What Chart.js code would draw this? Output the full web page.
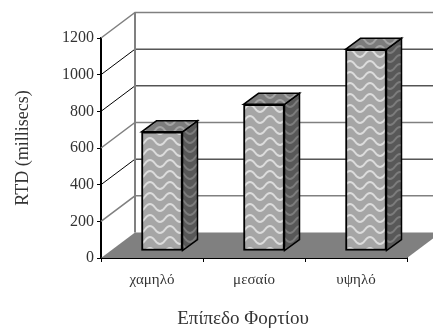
<!DOCTYPE html>
<html>
<head>
<meta charset="utf-8">
<title>RTD</title>
<script src="https://cdn.jsdelivr.net/npm/chart.js@4"></script>
<style>
	html, body { margin: 0; padding: 0; background: #fff; }
	canvas { display: block; }
</style>
</head>
<body>
<canvas id="myChart" width="433" height="329"></canvas>
<script>
const categories = ['χαμηλό', 'μεσαίο', 'υψηλό'];
const rtdValues = [650, 800, 1100];
const yTicks = [0, 200, 400, 600, 800, 1000, 1200];
const yTitle = 'RTD (millisecs)';
const xTitle = 'Επίπεδο Φορτίου';

(function () {
	const FONT = '"Liberation Serif", serif';
	const WALL = { dx: 34, dy: -25.5 };  // profundidad de la pared
	const SHIFT = { dx: 10, dy: -7 };    // barra dentro del suelo
	const DEPTH = { dx: 15, dy: -11 };   // profundidad de la barra
	const gridColors = ['#808080', '#808080', '#000', '#808080', '#000', '#000', '#808080'];

	function onda(base, linea, alto) {
		const c = document.createElement('canvas');
		c.width = 20;
		c.height = alto;
		const g = c.getContext('2d');
		g.fillStyle = base;
		g.fillRect(0, 0, 20, alto);
		g.strokeStyle = linea;
		g.lineWidth = 2;
		[-alto, 0, alto].forEach(off => {
			const m = off + alto / 2;
			g.beginPath();
			g.moveTo(-5, m);
			g.quadraticCurveTo(0, m - 7, 5, m);
			g.quadraticCurveTo(10, m + 7, 15, m);
			g.quadraticCurveTo(20, m - 7, 25, m);
			g.stroke();
		});
		return g.createPattern(c, 'repeat');
	}

	const ctx = document.getElementById('myChart');
	const frente = onda('#a6a6a6', '#dcdcdc', 11);
	const lado = onda('#585858', '#7c7c7c', 9);
	const tapa = onda('#7c7c7c', '#a4a4a4', 9);

	function poligono(g, puntos, fill) {
		g.beginPath();
		puntos.forEach((p, i) => i ? g.lineTo(p[0], p[1]) : g.moveTo(p[0], p[1]));
		g.closePath();
		g.fillStyle = fill;
		g.fill();
		g.strokeStyle = '#000';
		g.lineWidth = 1.5;
		g.stroke();
	}

	const fondo3d = {
		id: 'fondo3d',
		beforeDatasetsDraw(chart) {
			const g = chart.ctx;
			const { left, right, bottom } = chart.chartArea;
			const y = chart.scales.y;
			g.save();
			// suelo
			g.beginPath();
			g.moveTo(left, bottom);
			g.lineTo(left + WALL.dx, bottom + WALL.dy);
			g.lineTo(right + WALL.dx, bottom + WALL.dy);
			g.lineTo(right, bottom);
			g.closePath();
			g.fillStyle = '#808080';
			g.fill();
			// pared y lineas de la rejilla
			yTicks.forEach((v, i) => {
				const py = y.getPixelForValue(v);
				g.strokeStyle = gridColors[i];
				g.lineWidth = gridColors[i] === '#000' ? 1 : 1.5;
				g.beginPath();
				if (v > 0) {
					g.moveTo(left, py);
					g.lineTo(left + WALL.dx, py + WALL.dy);
					g.lineTo(right + WALL.dx, py + WALL.dy);
				}
				g.stroke();
			});
			g.strokeStyle = '#808080';
			g.lineWidth = 2;
			g.beginPath();
			g.moveTo(left + WALL.dx, y.getPixelForValue(1200) + WALL.dy);
			g.lineTo(left + WALL.dx, bottom + WALL.dy);
			g.stroke();
			g.restore();
		},
		beforeDatasetDraw(chart, args) {
			const g = chart.ctx;
			chart.getDatasetMeta(args.index).data.forEach(b => {
				const x0 = b.x - b.width / 2 + SHIFT.dx;
				const x1 = b.x + b.width / 2 + SHIFT.dx;
				const top = b.y + SHIFT.dy;
				const base = b.base + SHIFT.dy;
				poligono(g, [[x1, top], [x1 + DEPTH.dx, top + DEPTH.dy], [x1 + DEPTH.dx, base + DEPTH.dy], [x1, base]], lado);
				poligono(g, [[x0, top], [x0 + DEPTH.dx, top + DEPTH.dy], [x1 + DEPTH.dx, top + DEPTH.dy], [x1, top]], tapa);
			});
			g.save();
			g.translate(SHIFT.dx, SHIFT.dy);
		},
		afterDatasetDraw(chart) {
			chart.ctx.restore();
		},
		afterDraw(chart) {
			const g = chart.ctx;
			g.save();
			g.font = '19px ' + FONT;
			g.fillStyle = '#333';
			g.textAlign = 'center';
			g.textBaseline = 'middle';
			g.fillText(xTitle, 243, 319);
			g.restore();
		}
	};

	new Chart(ctx, {
		type: 'bar',
		data: {
			labels: categories,
			datasets: [{
				data: rtdValues,
				backgroundColor: frente,
				borderColor: '#000',
				borderWidth: 2,
				borderSkipped: false,
				barThickness: 41,
				clip: false
			}]
		},
		plugins: [fondo3d],
		options: {
			responsive: false,
			animation: false,
			layout: { padding: { top: 38, right: 26, left: 0, bottom: 0 } },
			plugins: {
				legend: { display: false },
				tooltip: { enabled: false }
			},
			scales: {
				x: {
					afterFit(scale) { scale.height = 71; },
					border: { color: '#000', width: 2 },
					grid: { drawOnChartArea: false, offset: true, color: '#000', tickLength: 4 },
					ticks: {
						color: '#333',
						padding: 9,
						maxRotation: 0,
						font: { family: FONT, size: 15 }
					}
				},
				y: {
					min: 0,
					max: 1200,
					afterFit(scale) { scale.width = 101; },
					afterBuildTicks(scale) { scale.ticks = yTicks.map(v => ({ value: v })); },
					border: { color: '#000', width: 2 },
					grid: { drawOnChartArea: false, color: '#000', tickLength: 4 },
					ticks: {
						color: '#333',
						padding: 3,
						font: { family: FONT, size: 16 },
						callback: value => String(value)
					},
					title: {
						display: true,
						text: yTitle,
						color: '#333',
						padding: { top: 12, bottom: 0 },
						font: { family: FONT, size: 18 }
					}
				}
			}
		}
	});
})();
</script>
</body>
</html>
